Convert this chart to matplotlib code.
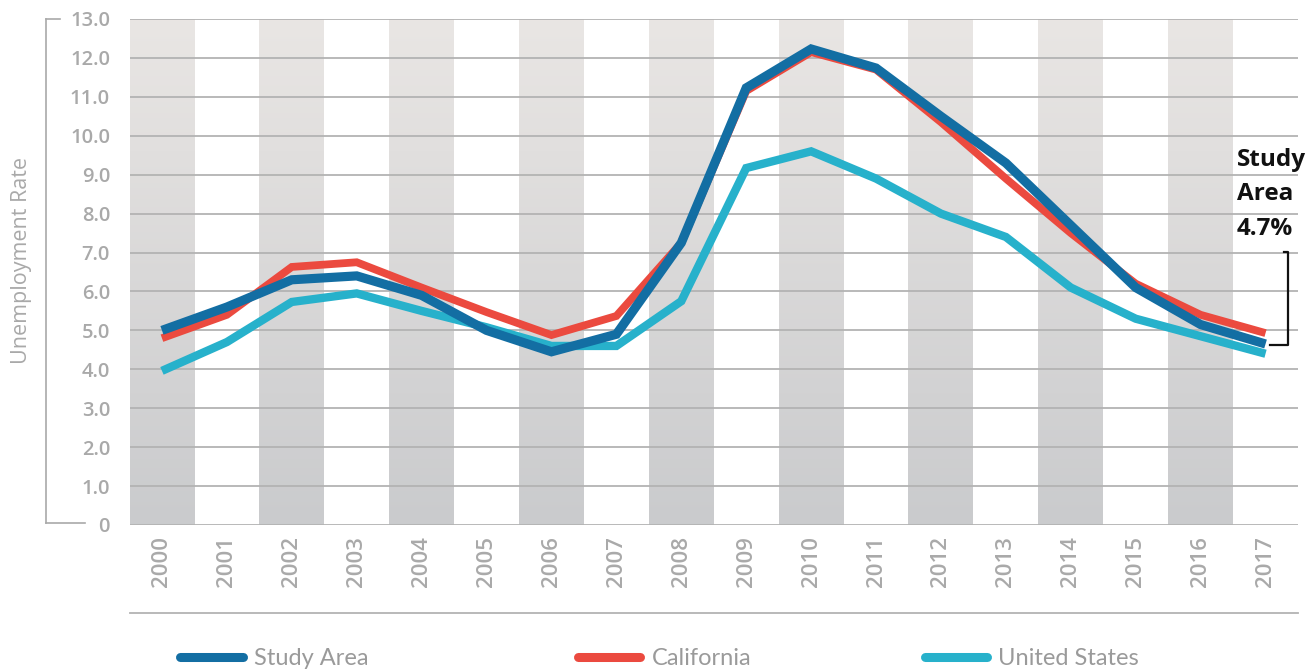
import matplotlib
matplotlib.use("Agg")
import matplotlib.pyplot as plt
import numpy as np
from matplotlib.lines import Line2D

years = [2000, 2001, 2002, 2003, 2004, 2005, 2006, 2007, 2008,
         2009, 2010, 2011, 2012, 2013, 2014, 2015, 2016, 2017]
study_area = [5.0, 5.6, 6.3, 6.4, 5.9, 5.0, 4.45, 4.9, 7.25,
              11.23, 12.23, 11.74, 10.5, 9.3, 7.7, 6.1, 5.15, 4.65]
california = [4.8, 5.4, 6.63, 6.75, 6.1, 5.47, 4.88, 5.37, 7.25,
              11.15, 12.15, 11.7, 10.35, 8.9, 7.5, 6.2, 5.4, 4.93]
united_states = [3.96, 4.7, 5.73, 5.95, 5.5, 5.08, 4.6, 4.6, 5.75,
                 9.17, 9.6, 8.9, 8.0, 7.4, 6.1, 5.3, 4.85, 4.4]
y_ticks = [0, 1, 2, 3, 4, 5, 6, 7, 8, 9, 10, 11, 12, 13]
y_tick_labels = ["0", "1.0", "2.0", "3.0", "4.0", "5.0", "6.0", "7.0",
                 "8.0", "9.0", "10.0", "11.0", "12.0", "13.0"]

W, H = 1312, 670
fig = plt.figure(figsize=(W / 100, H / 100), dpi=100)
left, right, top, bottom = 129.5, 1298, 19, 525
ax = fig.add_axes([left / W, 1 - bottom / H, (right - left) / W, (bottom - top) / H])

x = np.arange(len(years))

# gradient stripes
c_top = np.array([0.914, 0.902, 0.894])
c_bot = np.array([0.792, 0.796, 0.804])
t = np.linspace(0, 1, 256)[:, None]
grad = (c_top[None, :] * (1 - t) + c_bot[None, :] * t)[:, None, :]
for i in range(0, len(years), 2):
    ax.imshow(grad, extent=(i - 0.5, i + 0.5, 0, 13), aspect="auto", zorder=0,
              interpolation="bilinear")
ax.set_xlim(-0.5, len(years) - 0.5)
ax.set_ylim(0, 13)

for yv in y_ticks:
    ax.axhline(yv, color="#b3b3b3", lw=1.3, zorder=1)

ax.plot(x, united_states, color="#27b1cb", lw=6.0, zorder=3, solid_capstyle="butt",
        solid_joinstyle="miter")
ax.plot(x, california, color="#eb4a3f", lw=5.6, zorder=4, solid_capstyle="butt",
        solid_joinstyle="miter")
ax.plot(x, study_area, color="#136ea3", lw=6.6, zorder=5, solid_capstyle="butt",
        solid_joinstyle="miter")

for s in ax.spines.values():
    s.set_visible(False)
ax.tick_params(length=0)
ax.set_yticks(y_ticks)
ax.set_yticklabels(y_tick_labels, fontsize=14.5, color="#a9a9a9", fontweight="semibold",
                   family="Open Sans")
ax.tick_params(axis="y", pad=14)
ax.set_xticks(x)
ax.set_xticklabels([str(y) for y in years], rotation=90, fontsize=16, color="#a9a9a9",
                   fontweight="semibold", family="Open Sans")
ax.tick_params(axis="x", pad=8)

# y bracket
fig.add_artist(Line2D([46 / W, 46 / W], [1 - 19 / H, 1 - 523 / H], color="#a9a9a9", lw=1.2))
fig.add_artist(Line2D([46 / W, 60 / W], [1 - 19 / H, 1 - 19 / H], color="#a9a9a9", lw=1.2))
fig.add_artist(Line2D([46 / W, 85 / W], [1 - 523 / H, 1 - 523 / H], color="#a9a9a9", lw=1.2))
fig.text(22 / W, 1 - 260 / H, "Unemployment Rate", rotation=90, ha="center", va="center",
         fontsize=15.5, color="#a9a9a9", family="Open Sans")

# line under x labels
fig.add_artist(Line2D([130 / W, 1298 / W], [1 - 613 / H, 1 - 613 / H], color="#b3b3b3", lw=1.3))

# annotation
fig.text(1237 / W, 1 - 148 / H, "Study\nArea\n4.7%", fontsize=17.5, fontweight="bold",
         color="#111111", family="Open Sans", ha="left", va="top", linespacing=1.58, zorder=6)
fig.add_artist(Line2D([1270 / W, 1288 / W, 1288 / W, 1284 / W],
                      [1 - 345 / H, 1 - 345 / H, 1 - 252 / H, 1 - 252 / H],
                      color="#111111", lw=1.6))

# legend
ly = 1 - 657 / H
legend_items = [("Study Area", "#136ea3", 180, 243, 254),
                ("California", "#eb4a3f", 578, 640, 652),
                ("United States", "#27b1cb", 925, 987, 998)]
for label, col, x0, x1, xt in legend_items:
    fig.add_artist(Line2D([x0 / W, x1 / W], [ly, ly], color=col, lw=6.5,
                          solid_capstyle="round"))
    fig.text(xt / W, ly - 0.002, label, fontsize=17, color="#9a9a9a", ha="left", va="center",
             family="Lato")

fig.savefig("out.png", dpi=100)
